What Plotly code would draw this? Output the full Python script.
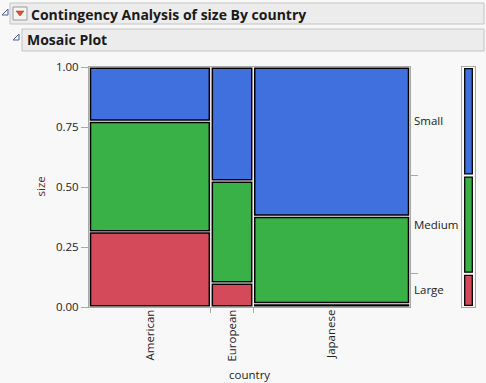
import plotly.graph_objects as go

# ---------------- data ----------------
countries = ["American", "European", "Japanese"]
sizes = ["Large", "Medium", "Small"]
large_counts = [36, 4, 2]
medium_counts = [53, 17, 54]
small_counts = [26, 19, 92]
y_tick_vals = [0.0, 0.25, 0.5, 0.75, 1.0]
y_tick_text = ["0.00", "0.25", "0.50", "0.75", "1.00"]

colors = {"Large": "#D44A5A", "Medium": "#3AB146", "Small": "#4070DE"}

# ---------------- geometry (pixels) ----------------
W, H = 486, 383
ML, MR, MT, MB = 89, 10, 67, 76
PW, PH = W - ML - MR, H - MT - MB
mosaic_right = 410
marg_left, marg_right = 461.7, 475.3
x_dom = [0, (mosaic_right - ML) / PW]
x2_dom = [(marg_left - ML) / PW, (marg_right - ML) / PW]
mosaic_px = mosaic_right - ML


def px(x, y):
    return (x - ML) / PW, 1 - (y - MT) / PH


counts_by_size = {"Large": large_counts, "Medium": medium_counts, "Small": small_counts}
col_totals = [l + m + s for l, m, s in zip(large_counts, medium_counts, small_counts)]
grand = sum(col_totals)
col_frac = [t / grand for t in col_totals]
col_left = [sum(col_frac[:i]) for i in range(len(col_frac))]
col_center = [l + f / 2 for l, f in zip(col_left, col_frac)]
boundaries = [col_left[i] for i in range(1, len(col_left))]

gx = 1.5 / mosaic_px   # inset in x units
gy = 1.2 / PH          # inset in y units

fig = go.Figure()

# mosaic bars
for s in sizes:
    xs, bases, hs, ws = [], [], [], []
    for i, c in enumerate(countries):
        below = sum(counts_by_size[k][i] for k in sizes[: sizes.index(s)]) / col_totals[i]
        h = counts_by_size[s][i] / col_totals[i]
        xs.append(col_center[i])
        bases.append(below + gy)
        hs.append(max(h - 2 * gy, 0.0005))
        ws.append(col_frac[i] - 2 * gx)
    fig.add_trace(go.Bar(
        x=xs, y=hs, base=bases, width=ws, name=s,
        marker=dict(color=colors[s], line=dict(color="black", width=1.5)),
        xaxis="x", yaxis="y", showlegend=False, hoverinfo="skip"))

# marginal bar
marg_totals = [sum(counts_by_size[s]) for s in sizes]
marg_frac = [t / grand for t in marg_totals]
marg_base = [sum(marg_frac[:i]) for i in range(len(marg_frac))]
gy2 = 1.6 / PH
for s, b, f in zip(sizes, marg_base, marg_frac):
    fig.add_trace(go.Bar(
        x=[0.5], y=[f - 2 * gy2], base=[b + gy2], width=[0.56],
        marker=dict(color=colors[s], line=dict(color="black", width=1.3)),
        xaxis="x2", yaxis="y4", showlegend=False, hoverinfo="skip"))

marg_mid = [b + f / 2 for b, f in zip(marg_base, marg_frac)]
marg_bounds = [marg_base[i] for i in range(1, len(marg_base))]

# invisible helper traces to activate overlay axes
for xa, ya in [("x", "y2"), ("x", "y3"), ("x3", "y")]:
    fig.add_trace(go.Scatter(x=[0.5], y=[0.5], mode="markers", opacity=0,
                             xaxis=xa, yaxis=ya, showlegend=False, hoverinfo="skip"))

axis_gray = "#A8A8A8"
font_main = "Open Sans"

fig.update_layout(
    width=W, height=H,
    margin=dict(l=ML, r=MR, t=MT, b=MB),
    paper_bgcolor="#F8F8F8", plot_bgcolor="#F8F8F8",
    barmode="overlay",
    font=dict(family=font_main, size=11.5, color="#222222"),
    xaxis=dict(domain=x_dom, range=[0, 1], tickvals=col_center, ticktext=countries,
               tickangle=-90, ticks="", showgrid=False, zeroline=False,
               showline=True, linecolor=axis_gray, mirror=True, ticklabelstandoff=-3,
               tickfont=dict(size=11.5, color="#222222")),
    xaxis3=dict(overlaying="x", anchor="y", side="bottom", range=[0, 1],
                tickvals=boundaries, ticks="outside", ticklen=5, tickcolor=axis_gray,
                showticklabels=False, showgrid=False, zeroline=False, showline=False),
    yaxis=dict(range=[0, 1], tickvals=y_tick_vals, ticktext=y_tick_text,
               ticks="outside", ticklen=7, tickcolor=axis_gray, showgrid=False,
               zeroline=False, showline=True, linecolor=axis_gray, mirror=True,
               tickfont=dict(size=11.5, color="#222222")),
    yaxis2=dict(overlaying="y", anchor="x", side="right", range=[0, 1],
                tickvals=marg_mid, ticktext=sizes, ticks="", showgrid=False,
                ticklabelstandoff=3,
                zeroline=False, showline=False, tickfont=dict(size=11.5, color="#222222")),
    yaxis3=dict(overlaying="y", anchor="x", side="right", range=[0, 1],
                tickvals=marg_bounds, ticks="outside", ticklen=7, tickcolor=axis_gray,
                showticklabels=False, showgrid=False, zeroline=False, showline=False),
    xaxis2=dict(domain=x2_dom, anchor="y4", range=[0, 1], showticklabels=False,
                ticks="", showgrid=False, zeroline=False, showline=True,
                linecolor=axis_gray, mirror=True),
    yaxis4=dict(anchor="x2", range=[0, 1], showticklabels=False, ticks="",
                showgrid=False, zeroline=False, showline=True, linecolor=axis_gray,
                mirror=True),
)

# ---------------- header decoration ----------------
shapes = []
x0, y0 = px(10, 3); x1, y1 = px(484, 24)
shapes.append(dict(type="rect", xref="paper", yref="paper", x0=x0, y0=y0, x1=x1, y1=y1,
                   fillcolor="#ECECEC", line=dict(color="#C4C4C4", width=1), layer="below"))
x0, y0 = px(22, 29); x1, y1 = px(484, 51)
shapes.append(dict(type="rect", xref="paper", yref="paper", x0=x0, y0=y0, x1=x1, y1=y1,
                   fillcolor="#ECECEC", line=dict(color="#C4C4C4", width=1), layer="below"))
# red dropdown icon box
x0, y0 = px(13, 7); x1, y1 = px(27, 20)
shapes.append(dict(type="rect", xref="paper", yref="paper", x0=x0, y0=y0, x1=x1, y1=y1,
                   fillcolor="#F4F4F4", line=dict(color="#9A9A9A", width=1)))


def tri_path(pts):
    p = [px(a, b) for a, b in pts]
    return "M " + " L ".join(f"{a},{b}" for a, b in p) + " Z"


shapes.append(dict(type="path", xref="paper", yref="paper",
                   path=tri_path([(16, 11), (24, 11), (20, 16)]),
                   fillcolor="#E0502A", line=dict(color="#B03010", width=0.5)))
# disclosure triangles
shapes.append(dict(type="path", xref="paper", yref="paper",
                   path=tri_path([(8, 9), (8, 15), (2, 15)]),
                   fillcolor="rgba(0,0,0,0)", line=dict(color="#50609A", width=1)))
shapes.append(dict(type="path", xref="paper", yref="paper",
                   path=tri_path([(19, 34), (19, 40), (13, 40)]),
                   fillcolor="rgba(0,0,0,0)", line=dict(color="#50609A", width=1)))
fig.update_layout(shapes=shapes)

ann = []
ax, ay = px(29, 14)
ann.append(dict(xref="paper", yref="paper", x=ax, y=ay, xanchor="left", yanchor="middle",
                text="<b>Contingency Analysis of size By country</b>", showarrow=False,
                font=dict(family=font_main, size=14, color="#1A1A1A")))
ax, ay = px(25, 40)
ann.append(dict(xref="paper", yref="paper", x=ax, y=ay, xanchor="left", yanchor="middle",
                text="<b>Mosaic Plot</b>", showarrow=False,
                font=dict(family=font_main, size=14, color="#1A1A1A")))
ax, ay = px(40, 186.5)
ann.append(dict(xref="paper", yref="paper", x=ax, y=ay, xanchor="center", yanchor="middle",
                text="size", textangle=-90, showarrow=False,
                font=dict(family=font_main, size=11.5, color="#6A2222")))
ax, ay = px(249, 374)
ann.append(dict(xref="paper", yref="paper", x=ax, y=ay, xanchor="center", yanchor="middle",
                text="country", showarrow=False,
                font=dict(family=font_main, size=11.5, color="#222222")))
fig.update_layout(annotations=ann)

fig.write_html("out.html", config={"displayModeBar": False},
               post_script="document.body.style.margin='0';document.body.style.padding='0';"
                           "document.body.style.overflow='hidden';")
